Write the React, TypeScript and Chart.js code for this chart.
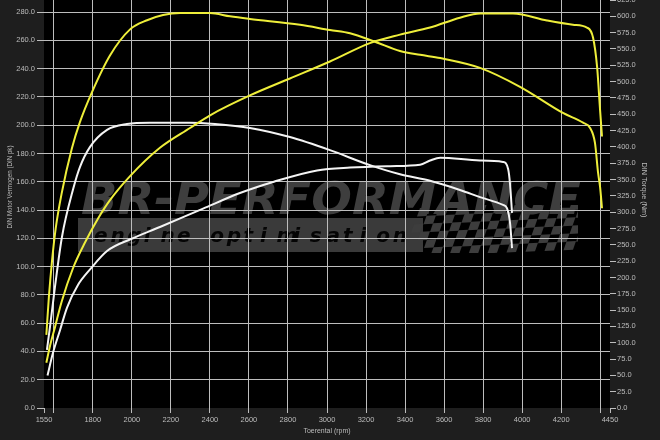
import React, { useEffect, useRef } from 'react';
import { Chart, registerables } from 'chart.js';

Chart.register(...registerables);

// Tuned torque (Nm, right axis) – yellow
const torqueTunedRpm = [1562, 1575, 1591, 1610, 1640, 1693, 1734, 1796, 1888, 1991, 2078, 2160, 2247, 2400, 2503, 2605, 2862, 3015, 3118, 3246, 3374, 3477, 3580, 3784, 3989, 4209, 4312, 4348, 4373, 4389, 4399, 4409];
const torqueTunedNm = [112, 170, 225, 275, 328, 398, 438, 484, 540, 580, 594, 602, 605, 605, 600, 596, 587, 579, 574, 561, 547, 541, 536, 521, 492, 452, 437, 429, 406, 360, 339, 306];

// Tuned power (pk, left axis) – yellow
const powerTunedRpm = [1562, 1581, 1606, 1640, 1699, 1760, 1827, 1888, 1991, 2144, 2298, 2401, 2605, 2810, 3015, 3220, 3374, 3528, 3681, 3784, 3953, 4127, 4260, 4332, 4363, 4384, 4399, 4409];
const powerTunedPk = [32, 44, 57, 75, 99, 117, 134, 147, 164, 184, 198, 207, 221, 233, 245, 258, 264, 269, 276, 279, 279, 274, 271, 269, 262, 241, 211, 192];

// Stock torque (Nm, right axis) – white
const torqueStockRpm = [1565, 1581, 1606, 1642, 1699, 1734, 1786, 1873, 1975, 2093, 2298, 2426, 2605, 2810, 3015, 3220, 3374, 3528, 3681, 3784, 3902, 3922, 3938, 3948];
const torqueStockNm = [89, 125, 185, 262, 335, 369, 400, 426, 435, 437, 437, 435, 429, 415, 395, 372, 358, 348, 334, 323, 311, 306, 283, 245];

// Stock power (pk, left axis) – white
const powerStockRpm = [1568, 1596, 1632, 1668, 1724, 1786, 1873, 1996, 2144, 2365, 2554, 2728, 2949, 3118, 3323, 3477, 3528, 3580, 3784, 3902, 3928, 3938, 3948];
const powerStockPk = [23, 39, 55, 71, 87, 98, 111, 119.5, 128, 141, 152, 160, 168, 170, 171, 172, 175, 177, 175, 174, 169, 158, 138];

const xTicks = [1550, 1600, 1800, 2000, 2200, 2400, 2600, 2800, 3000, 3200, 3400, 3600, 3800, 4000, 4200, 4400, 4450];
const xTickLabels = ['1550', '', '1800', '2000', '2200', '2400', '2600', '2800', '3000', '3200', '3400', '3600', '3800', '4000', '4200', '', '4450'];
const leftTicks = [0, 20, 40, 60, 80, 100, 120, 140, 160, 180, 200, 220, 240, 260, 280];
const rightTicks = [0, 25, 50, 75, 100, 125, 150, 175, 200, 225, 250, 275, 300, 325, 350, 375, 400, 425, 450, 475, 500, 525, 550, 575, 600, 625];

const xTitle = 'Toerental (rpm)';
const leftTitle = 'DIN Motor Vermogen (DIN pk)';
const rightTitle = 'DIN Torque (Nm)';
const brandText = 'BR-PERFORMANCE';
const brandSub = 'engine optimisation';

const toPts = (xs: number[], ys: number[]) => xs.map((x, i) => ({ x, y: ys[i] }));

const GRID = '#bdbdbd';
const LABEL = '#bcbcbc';
const FAMILY = '"Liberation Sans", Arial, sans-serif';
const FONT = { family: FAMILY, size: 7.5 };

// draws text centred at (cx, cy), rotated, squeezed to a given width
function squeezedText(ctx: any, text: string, cx: number, cy: number, rot: number, width: number) {
  ctx.save();
  ctx.font = `8px ${FAMILY}`;
  ctx.fillStyle = LABEL;
  ctx.textAlign = 'center';
  ctx.textBaseline = 'middle';
  const w = ctx.measureText(text).width;
  ctx.translate(cx, cy);
  ctx.rotate(rot);
  ctx.scale(width / w, 1);
  ctx.fillText(text, 0, 0);
  ctx.restore();
}

const watermarkPlugin = {
  id: 'watermark',
  beforeDraw(chart: any) {
    const { ctx, chartArea: a } = chart;
    ctx.save();
    ctx.fillStyle = '#000000';
    ctx.fillRect(a.left, a.top, a.right - a.left, a.bottom - a.top);

    // lower band
    ctx.fillStyle = '#3a3a3a';
    ctx.fillRect(78, 218, 345, 34);

    // checkered flag
    ctx.save();
    ctx.beginPath();
    ctx.rect(400, 205, 178, 48);
    ctx.clip();
    const sq = 9.5;
    for (let r = 0; r < 6; r++) {
      for (let c = 0; c < 20; c++) {
        if ((r + c) % 2 !== 0) continue;
        const x0 = 420 + c * sq - r * 3;
        const y0 = 208 + r * sq * 0.85 - c * 0.4;
        if (x0 < 418 - (5 - r) * 6) continue;
        ctx.fillStyle = '#3d3d3d';
        ctx.beginPath();
        ctx.moveTo(x0, y0);
        ctx.lineTo(x0 + sq, y0 - 0.5);
        ctx.lineTo(x0 + sq - 3, y0 + sq * 0.85);
        ctx.lineTo(x0 - 3, y0 + sq * 0.85 + 0.5);
        ctx.closePath();
        ctx.fill();
      }
    }
    ctx.restore();

    // big brand text
    ctx.save();
    ctx.font = 'italic bold 44px "DejaVu Sans", sans-serif';
    const w = ctx.measureText(brandText).width;
    ctx.translate(81, 214);
    ctx.scale(500 / w, 1);
    ctx.fillStyle = '#3e3e3e';
    ctx.textBaseline = 'alphabetic';
    ctx.fillText(brandText, 0, 0);
    ctx.restore();

    // sub text
    ctx.font = 'italic bold 20px "DejaVu Sans", sans-serif';
    ctx.fillStyle = '#050505';
    ctx.textBaseline = 'alphabetic';
    brandSub.split('').forEach((ch, i) => {
      ctx.fillText(ch, 94 + i * 16.6, 242);
    });
    ctx.restore();
  },
  afterDraw(chart: any) {
    const { ctx } = chart;
    squeezedText(ctx, leftTitle, 10, 187, -Math.PI / 2, 83);
    squeezedText(ctx, rightTitle, 644, 190, Math.PI / 2, 55);
    squeezedText(ctx, xTitle, 327, 431, 0, 47);
  },
};

export default function App() {
  const ref = useRef<HTMLCanvasElement | null>(null);

  useEffect(() => {
    if (!ref.current) return;
    const edgeX = (ctx: any) =>
      ctx.tick && (ctx.tick.value === 1550 || ctx.tick.value === 4450) ? 'rgba(0,0,0,0)' : GRID;
    const line = (data: any[], axis: string, color: string, label: string) => ({
      label,
      data,
      yAxisID: axis,
      borderColor: color,
      borderWidth: 2,
      pointRadius: 0,
      cubicInterpolationMode: 'monotone',
    });
    const chart = new Chart(ref.current, {
      type: 'line',
      data: {
        datasets: [
          line(toPts(torqueTunedRpm, torqueTunedNm), 'yR', '#eeee3a', 'Torque tuned'),
          line(toPts(powerTunedRpm, powerTunedPk), 'yL', '#eeee3a', 'Power tuned'),
          line(toPts(torqueStockRpm, torqueStockNm), 'yR', '#f4f4f4', 'Torque stock'),
          line(toPts(powerStockRpm, powerStockPk), 'yL', '#f4f4f4', 'Power stock'),
        ],
      },
      options: {
        responsive: false,
        animation: false,
        events: [],
        layout: { padding: 0, autoPadding: false },
        plugins: { legend: { display: false }, tooltip: { enabled: false } },
        scales: {
          x: {
            type: 'linear',
            position: 'bottom',
            min: 1550,
            max: 4450,
            afterBuildTicks: (s: any) => {
              s.ticks = xTicks.map((v) => ({ value: v }));
            },
            afterFit: (s: any) => {
              s.height = 32;
              s.paddingLeft = 0;
              s.paddingRight = 0;
            },
            grid: { color: edgeX, tickColor: GRID, tickLength: 5, lineWidth: 1 },
            border: { display: false },
            ticks: {
              autoSkip: false,
              maxRotation: 0,
              padding: 2,
              color: LABEL,
              font: FONT,
              callback: (_v: any, i: number) => xTickLabels[i],
            },
          },
          yL: {
            type: 'linear',
            position: 'left',
            min: 0,
            max: 288.5,
            afterBuildTicks: (s: any) => {
              s.ticks = leftTicks.map((v) => ({ value: v }));
            },
            afterFit: (s: any) => {
              s.width = 44;
              s.paddingTop = 0;
              s.paddingBottom = 0;
            },
            grid: {
              color: (ctx: any) => (ctx.tick && ctx.tick.value === 0 ? 'rgba(0,0,0,0)' : GRID),
              tickColor: GRID,
              tickLength: 7,
            },
            border: { display: false },
            ticks: {
              padding: 2,
              color: LABEL,
              font: FONT,
              callback: (v: any) => Number(v).toFixed(1),
            },
          },
          yR: {
            type: 'linear',
            position: 'right',
            min: 0,
            max: 625,
            afterBuildTicks: (s: any) => {
              s.ticks = rightTicks.map((v) => ({ value: v }));
            },
            afterFit: (s: any) => {
              s.width = 50;
              s.paddingTop = 0;
              s.paddingBottom = 0;
            },
            grid: { drawOnChartArea: false, color: GRID, tickColor: GRID, tickLength: 6 },
            border: { display: false },
            ticks: {
              padding: 1,
              color: LABEL,
              font: FONT,
              callback: (v: any) => Number(v).toFixed(1),
            },
          },
        },
      },
      plugins: [watermarkPlugin],
    } as any);
    return () => chart.destroy();
  }, []);

  return (
    <div style={{ position: 'fixed', left: 0, top: 0, width: 660, height: 440, background: '#1e1e1e' }}>
      <canvas ref={ref} width={660} height={440} style={{ display: 'block' }} />
    </div>
  );
}
